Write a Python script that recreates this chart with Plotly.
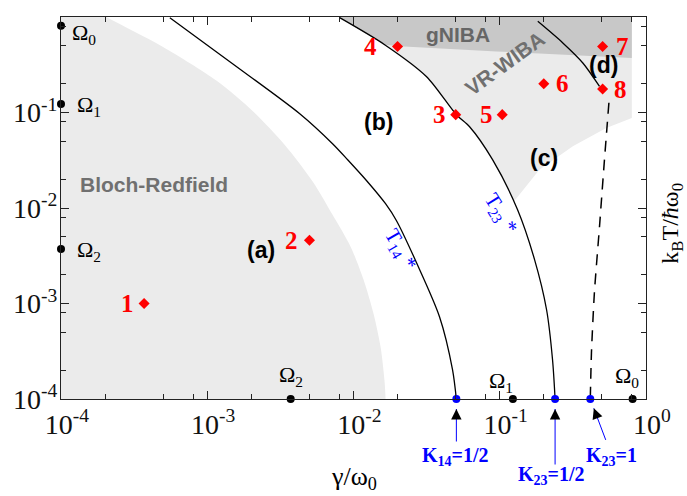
import numpy as np
import plotly.graph_objects as go

# ---------------- data ----------------
# major / minor ticks (log axes)
major_vals = [1e-4, 1e-3, 1e-2, 1e-1, 1e0]
major_text = ["10<sup>-4</sup>", "10<sup>-3</sup>", "10<sup>-2</sup>",
              "10<sup>-1</sup>", "10<sup>0</sup>"]
minor_vals = [m * 10.0 ** e for e in range(-4, 0) for m in (2, 5, 8)]

# characteristic frequencies (marked on both axes)
omega_text = ["Ω<sub>0</sub>", "Ω<sub>1</sub>", "Ω<sub>2</sub>"]
omega_vals = [0.81, 0.123, 3.72e-3]

# special coupling strengths on the gamma axis
k_text = ["K<sub>14</sub>=1/2", "K<sub>23</sub>=1/2", "K<sub>23</sub>=1"]
k_gamma = [0.0505, 0.239, 0.416]

# sample parameter sets
pt_text = ["1", "2", "3", "4", "5", "6", "7", "8"]
pt_gamma = [3.7e-4, 5.0e-3, 0.050, 0.020, 0.104, 0.20, 0.505, 0.505]
pt_temp = [1.0e-3, 4.6e-3, 0.095, 0.49, 0.095, 0.20, 0.49, 0.176]

# Bloch-Redfield validity boundary
br_gamma = [2.04e-4, 4.95e-4, 1.16e-3, 2.07e-3, 3.38e-3, 5.27e-3, 7.19e-3,
            9.55e-3, 0.01172, 0.01371, 0.01531, 0.01629, 0.01656]
br_temp = [1.0, 0.489, 0.215, 0.102, 0.046, 0.01884, 8.5e-3,
           3.94e-3, 1.77e-3, 7.8e-4, 3.53e-4, 1.56e-4, 1e-4]

# crossover temperature T14*
t14_gamma = [5.55e-4, 1.49e-3, 4.29e-3, 7.19e-3, 9.12e-3, 0.0123, 0.01656,
             0.01968, 0.02698, 0.03873, 0.04753, 0.0505]
t14_temp = [0.984, 0.324, 0.097, 0.0471, 0.032, 0.0193, 0.01109,
            7.36e-3, 2.67e-3, 7.28e-4, 2.03e-4, 1e-4]

# crossover temperature T23*
t23_gamma = [8.04e-3, 0.01633, 0.03162, 0.0505, 0.0622, 0.0893, 0.1324,
             0.173, 0.209, 0.2296, 0.239]
t23_temp = [0.984, 0.513, 0.237, 0.0948, 0.071, 0.0321, 9.6e-3,
            2.88e-3, 8.6e-4, 2.58e-4, 1e-4]

# VR-WIBA region: lower boundary
vr_gamma = [0.125, 0.1866, 0.316, 0.535, 0.80]
vr_temp = [0.0117, 0.0252, 0.0442, 0.0689, 0.0875]

# gNIBA region: lower boundary
gn_gamma = [0.01633, 0.02065, 0.0951, 0.256, 0.80]
gn_temp = [0.513, 0.494, 0.436, 0.403, 0.372]

# K23 = 1 line (dashed) and regime (d) boundary
k1_gamma = [0.5577, 0.520, 0.481, 0.4436, 0.4236, 0.416]
k1_temp = [0.1265, 0.0321, 6.41e-3, 1.29e-3, 3.03e-4, 1e-4]
d_gamma = [0.182, 0.270, 0.370, 0.481]
d_temp = [0.90, 0.535, 0.330, 0.1875]

# ---------------- figure ----------------
LIGHT = "#ebebeb"
DARK = "#c8c8c8"
SERIF = "Liberation Serif"
SANS = "Liberation Sans"

fig = go.Figure()

# Bloch-Redfield shaded area (closing corners lie outside the axes and are clipped)
fig.add_trace(go.Scatter(
    x=[5e-5, 8.5e-5] + br_gamma + [0.0166, 5e-5],
    y=[5.0, 2.06] + br_temp + [6.2e-5, 5e-5],
    fill="toself", fillcolor=LIGHT, mode="lines",
    line=dict(width=0, shape="spline", smoothing=0.8),
    hoverinfo="skip", showlegend=False))

# VR-WIBA shaded area (right of T23*)
n_upper = 6
vr_x = [t23_gamma[0]] + t23_gamma[:n_upper] + vr_gamma + [vr_gamma[-1]]
vr_y = [1.0] + t23_temp[:n_upper] + vr_temp + [1.0]
fig.add_trace(go.Scatter(
    x=vr_x, y=vr_y, fill="toself", fillcolor=LIGHT, line=dict(width=0),
    mode="lines", hoverinfo="skip", showlegend=False))

# gNIBA shaded area
gn_x = [t23_gamma[0]] + t23_gamma[:2] + gn_gamma[1:] + [gn_gamma[-1]]
gn_y = [1.0] + t23_temp[:2] + gn_temp[1:] + [1.0]
fig.add_trace(go.Scatter(
    x=gn_x, y=gn_y, fill="toself", fillcolor=DARK, line=dict(width=0),
    mode="lines", hoverinfo="skip", showlegend=False))

# crossover curves
for gx, ty in ((t14_gamma, t14_temp), (t23_gamma, t23_temp), (d_gamma, d_temp)):
    fig.add_trace(go.Scatter(
        x=gx, y=ty, mode="lines",
        line=dict(color="black", width=1.3, shape="spline", smoothing=0.8),
        hoverinfo="skip", showlegend=False))

fig.add_trace(go.Scatter(
    x=k1_gamma, y=k1_temp, mode="lines",
    line=dict(color="black", width=1.5, dash="11px,8px", shape="spline", smoothing=0.6),
    hoverinfo="skip", showlegend=False))

# sample points
fig.add_trace(go.Scatter(
    x=pt_gamma, y=pt_temp, mode="markers",
    marker=dict(symbol="diamond", size=8.5, color="#ff0000"),
    cliponaxis=False, hoverinfo="skip", showlegend=False))

# coupling markers on the gamma axis
fig.add_trace(go.Scatter(
    x=k_gamma, y=[1e-4] * len(k_gamma), mode="markers",
    marker=dict(symbol="circle", size=8, color="#0000ff"),
    cliponaxis=False, hoverinfo="skip", showlegend=False))

# frequency markers on both axes
fig.add_trace(go.Scatter(
    x=omega_vals + [1e-4] * len(omega_vals),
    y=[1e-4] * len(omega_vals) + omega_vals, mode="markers",
    marker=dict(symbol="circle", size=8, color="black"),
    cliponaxis=False, hoverinfo="skip", showlegend=False))

ann = []
lg = np.log10

# region names
ann.append(dict(x=lg(4.3e-4), y=lg(0.0175), text="<b>Bloch-Redfield</b>",
                font=dict(family=SANS, size=21, color="#707070"), showarrow=False))
ann.append(dict(x=lg(0.0515), y=lg(0.66), text="<b>gNIBA</b>",
                font=dict(family=SANS, size=21, color="#666666"), showarrow=False))
ann.append(dict(x=lg(0.108), y=lg(0.324), text="<b>VR-WIBA</b>", textangle=-36,
                font=dict(family=SANS, size=21, color="#707070"), showarrow=False))
for txt, gx, ty in (("(a)", 2.32e-3, 3.67e-3), ("(b)", 0.0149, 0.080),
                    ("(c)", 0.1995, 0.0336), ("(d)", 0.515, 0.315)):
    ann.append(dict(x=lg(gx), y=lg(ty), text="<b>%s</b>" % txt,
                    font=dict(family=SANS, size=23, color="black"), showarrow=False))

# curve labels
ann.append(dict(x=lg(0.021), y=lg(3.67e-3), text="T<sub>14</sub> *", textangle=60,
                font=dict(family=SERIF, size=21, color="#0000ff"), showarrow=False))
ann.append(dict(x=lg(0.1014), y=lg(8.7e-3), text="T<sub>23</sub> *", textangle=58,
                font=dict(family=SERIF, size=21, color="#0000ff"), showarrow=False))

# sample numbers
label_dx = [-17, -18, -16, -27, -16, 19, 20, 18]
for txt, gx, ty, dx in zip(pt_text, pt_gamma, pt_temp, label_dx):
    ann.append(dict(x=lg(gx), y=lg(ty), text="<b>%s</b>" % txt, xshift=dx,
                    font=dict(family=SERIF, size=25, color="#ff0000"), showarrow=False))

# frequency labels
omega_font = dict(family=SERIF, size=22, color="black")
left_shift = [(9, -8), (14, -2), (14, -2)]
bottom_shift = [(-6, 22), (-12, 17), (0, 23)]
for txt, v, (dx, dy) in zip(omega_text, omega_vals, left_shift):
    ann.append(dict(x=-4, y=lg(v), text=txt, xanchor="left", xshift=dx, yshift=dy,
                    font=omega_font, showarrow=False))
for txt, v, (dx, dy) in zip(omega_text, omega_vals, bottom_shift):
    ann.append(dict(x=lg(v), y=-4, text=txt, xshift=dx, yshift=dy,
                    font=omega_font, showarrow=False))

# coupling labels with arrows
k_label_shift = [(-1, -57), (-4, -76), (21, -57)]
k_arrow_tail = [(0, 44), (0, 67), (16, 42.4)]
for txt, gx, (dx, dy), (ax, ay) in zip(k_text, k_gamma, k_label_shift, k_arrow_tail):
    ann.append(dict(x=lg(gx), y=-4, text="<b>%s</b>" % txt, xshift=dx, yshift=dy,
                    font=dict(family=SERIF, size=20, color="#0000ff"), showarrow=False))
    ann.append(dict(x=lg(gx), y=-4, text="", showarrow=True, ax=ax, ay=ay,
                    arrowhead=0, arrowwidth=1, arrowcolor="#0000ff", standoff=10))
    L = (ax ** 2 + ay ** 2) ** 0.5
    ann.append(dict(x=lg(gx), y=-4, text="", showarrow=True,
                    ax=ax * 21 / L, ay=ay * 21 / L,
                    arrowhead=2, arrowsize=1.6, arrowwidth=1.3,
                    arrowcolor="black", standoff=10))

# axis titles
ann.append(dict(x=0.5, y=-0.206, xref="paper", yref="paper", text="γ/ω<sub>0</sub>",
                xanchor="center", yanchor="middle",
                font=dict(family=SERIF, size=26, color="black"), showarrow=False))
ann.append(dict(x=1.0445, y=0.459, xref="paper", yref="paper",
                text="k<sub>B</sub>T/<i>ħ</i>ω<sub>0</sub>", textangle=-90,
                xanchor="center", yanchor="middle",
                font=dict(family=SERIF, size=24, color="black"), showarrow=False))

axis_common = dict(
    type="log", range=[-4, 0], showgrid=False, zeroline=False,
    showline=True, linecolor="#222222", linewidth=1.3, mirror="ticks",
    ticks="inside", ticklen=8, tickwidth=1.2, tickcolor="#222222",
    tickvals=major_vals,
    tickfont=dict(family=SERIF, size=28, color="#111111"),
    minor=dict(tickvals=minor_vals, ticks="inside", ticklen=5,
               tickwidth=1, tickcolor="#222222"),
)

fig.update_layout(
    width=687, height=496,
    margin=dict(l=61, r=41, t=17, b=97),
    paper_bgcolor="white", plot_bgcolor="white",
    xaxis=dict(axis_common, ticktext=major_text, ticklabelshift=6),
    # left-aligned look: pad the shortest label
    yaxis=dict(axis_common, ticktext=major_text[:-1] + ["10<sup>0</sup>\u2008\u2008"],
               ticklabelstandoff=-3),
    annotations=ann,
    showlegend=False,
)

fig.write_html("out.html")
